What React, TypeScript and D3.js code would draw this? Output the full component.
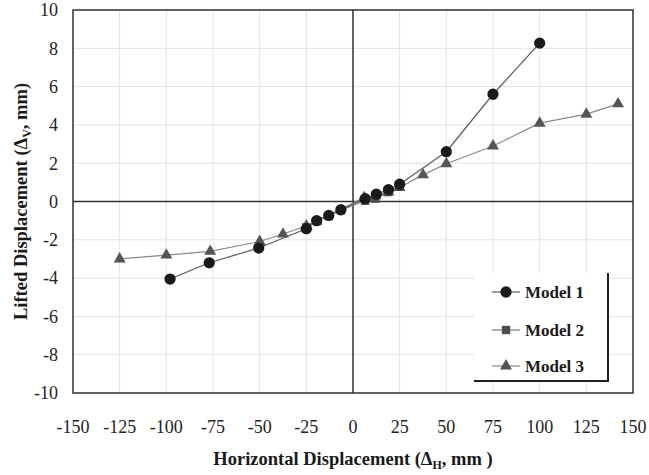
import React from "react";
import * as d3 from "d3";

const xTicks = [-150, -125, -100, -75, -50, -25, 0, 25, 50, 75, 100, 125, 150];
const yTicks = [-10, -8, -6, -4, -2, 0, 2, 4, 6, 8, 10];

const model1X = [-98, -77, -50.5, -25, -19.5, -13, -6.5, 6.5, 12.5, 19, 25, 50, 75, 100];
const model1Y = [-4.05, -3.2, -2.43, -1.42, -1.0, -0.73, -0.43, 0.15, 0.38, 0.62, 0.9, 2.6, 5.6, 8.27];

const model2X = [-25, -19, -13, -6.5, 6.5, 12, 18.6, 24.8];
const model2Y = [-1.35, -1.02, -0.76, -0.46, 0.04, 0.15, 0.49, 0.8];

const model3X = [-125, -100, -76.5, -50, -37.5, -25, 6, 12, 19, 25, 37.5, 50, 75, 100, 125, 142];
const model3Y = [-3.0, -2.8, -2.6, -2.09, -1.7, -1.28, 0.2, 0.3, 0.5, 0.73, 1.39, 1.97, 2.9, 4.09, 4.56, 5.1];

const seriesNames = ["Model 1", "Model 2", "Model 3"];

const W = 649;
const H = 475;
const L = 73, R = 633, T = 10, B = 393;

export default function App() {
  const x = d3.scaleLinear().domain([-150, 150]).range([L, R]);
  const y = d3.scaleLinear().domain([-10, 10]).range([B, T]);

  const series = [
    { name: seriesNames[0], xs: model1X, ys: model1Y, sym: d3.symbolCircle, size: 100, fill: "#1a1a1a", stroke: "#5a5a5a" },
    { name: seriesNames[1], xs: model2X, ys: model2Y, sym: d3.symbolSquare, size: 70, fill: "#4d4d4d", stroke: "#7a7a7a" },
    { name: seriesNames[2], xs: model3X, ys: model3Y, sym: d3.symbolTriangle, size: 62, fill: "#555555", stroke: "#8a8a8a" },
  ];

  const line = d3.line<[number, number]>().x((d) => x(d[0])).y((d) => y(d[1]));
  const font = "Liberation Serif, Tinos, Nimbus Roman, DejaVu Serif, serif";

  const legendRows = [292, 330, 366];

  return (
    <svg width={W} height={H} style={{ position: "absolute", left: 0, top: 0, background: "#fff", fontFamily: font }}>
      <rect x={0} y={0} width={W} height={H} fill="#fff" />
      {xTicks.map((t) => (
        <line key={"gx" + t} x1={x(t)} x2={x(t)} y1={T} y2={B} stroke="#e3e3e3" strokeWidth={1} />
      ))}
      {yTicks.map((t) => (
        <line key={"gy" + t} x1={L} x2={R} y1={y(t)} y2={y(t)} stroke="#e3e3e3" strokeWidth={1} />
      ))}
      <line x1={x(0)} x2={x(0)} y1={T} y2={B} stroke="#333" strokeWidth={1.5} />
      <line x1={L} x2={R} y1={y(0)} y2={y(0)} stroke="#333" strokeWidth={1.5} />
      <rect x={L} y={T} width={R - L} height={B - T} fill="none" stroke="#333" strokeWidth={1.5} />

      {series.slice().reverse().map((s) => (
        <g key={s.name}>
          <path d={line(s.xs.map((v, i) => [v, s.ys[i]] as [number, number])) || ""} fill="none" stroke={s.stroke} strokeWidth={1.2} />
          {s.xs.map((v, i) => (
            <path key={i} d={d3.symbol().type(s.sym).size(s.size)() || ""} transform={`translate(${x(v)},${y(s.ys[i])})`} fill={s.fill} />
          ))}
        </g>
      ))}

      {yTicks.map((t) => (
        <text key={"yl" + t} x={58} y={y(t)} dy="0.35em" textAnchor="end" fontSize={18} fill="#222">{t}</text>
      ))}
      {xTicks.map((t) => (
        <text key={"xl" + t} x={x(t)} y={427} dy="0.35em" textAnchor="middle" fontSize={18} fill="#222">{t}</text>
      ))}

      <text x={x(0)} y={459} dy="0.35em" textAnchor="middle" fontSize={18.5} fontWeight="bold" fill="#1a1a1a">
        Horizontal Displacement (Δ<tspan fontSize={12} dy="4">H</tspan><tspan dy="-4">, mm )</tspan>
      </text>
      <text transform={`translate(21,${y(0)}) rotate(-90)`} textAnchor="middle" dy="0.35em" fontSize={18.5} fontWeight="bold" fill="#1a1a1a">
        Lifted Displacement (Δ<tspan fontSize={12} dy="4">V</tspan><tspan dy="-4">, mm)</tspan>
      </text>

      <rect x={474} y={273} width={134} height={108} fill="#fff" />
      <line x1={608} x2={608} y1={273} y2={382} stroke="#222" strokeWidth={2} />
      <line x1={474} x2={609} y1={381} y2={381} stroke="#222" strokeWidth={2} />
      {series.map((s, i) => (
        <g key={"lg" + s.name}>
          <line x1={492} x2={520} y1={legendRows[i]} y2={legendRows[i]} stroke={s.stroke} strokeWidth={1.2} />
          <path d={d3.symbol().type(s.sym).size(s.size)() || ""} transform={`translate(506,${legendRows[i]})`} fill={s.fill} />
          <text x={525} y={legendRows[i]} dy="0.35em" fontSize={17} fontWeight="bold" fill="#1a1a1a">{s.name}</text>
        </g>
      ))}
    </svg>
  );
}
